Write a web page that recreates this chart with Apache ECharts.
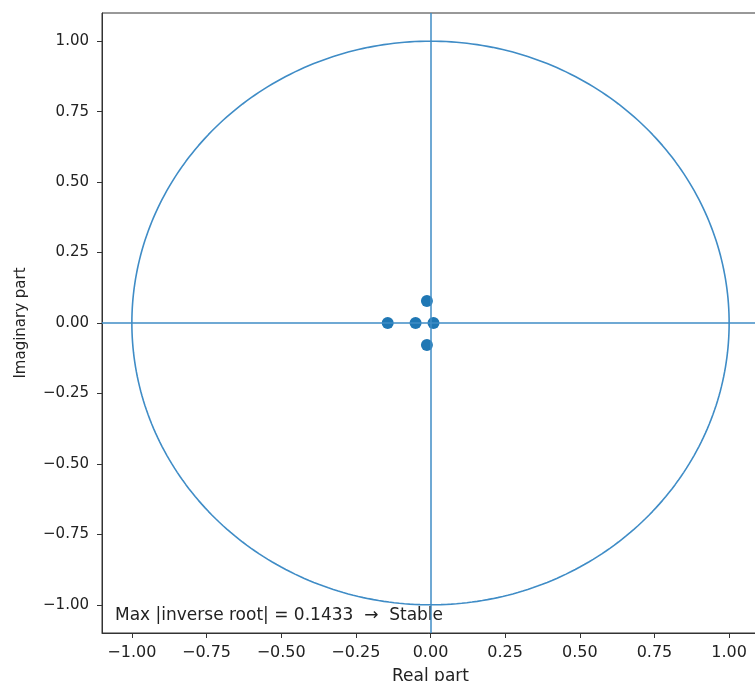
<!DOCTYPE html>
<html>
<head>
  <meta charset="utf-8">
  <title>Inverse roots</title>
  <style>
    html, body { margin: 0; padding: 0; background: #fff; }
    #chart { width: 755px; height: 681px; }
  </style>
</head>
<body>
  <div id="chart"></div>
  <script src="https://cdn.jsdelivr.net/npm/echarts@6/dist/echarts.min.js"></script>
  <script>
    // inverse roots (real, imaginary)
    var rootsRe = [-0.1433, -0.05, 0.01, -0.012, -0.012];
    var rootsIm = [0, 0, 0, 0.078, -0.078];
    var tickValues = [-1, -0.75, -0.5, -0.25, 0, 0.25, 0.5, 0.75, 1];
    var axisMin = -1.1;
    var axisMax = 1.1;

    var font = 'DejaVu Sans';
    var lineBlue = '#3f8cc6';

    function fmt(v) {
      return v.toFixed(2).replace('-', '\u2212');
    }

    var roots = rootsRe.map(function (re, i) { return [re, rootsIm[i]]; });
    var maxMod = Math.max.apply(null, roots.map(function (p) { return Math.hypot(p[0], p[1]); }));

    // unit circle reference
    var circle = [];
    for (var a = 0; a <= 360; a++) {
      var t = a * Math.PI / 180;
      circle.push([Math.cos(t), Math.sin(t)]);
    }

    var chart = echarts.init(document.getElementById('chart'));

    function axisCommon() {
      return {
        type: 'value',
        min: axisMin,
        max: axisMax,
        nameLocation: 'middle',
        nameTextStyle: { fontFamily: font, fontSize: 15, color: '#222' },
        splitLine: { show: false },
        axisLine: { show: true, onZero: false, lineStyle: { color: '#333', width: 1 } },
        axisTick: { show: true, inside: false, length: 5, customValues: tickValues, lineStyle: { color: '#333' } },
        axisLabel: {
          customValues: tickValues,
          formatter: fmt,
          fontFamily: font, fontSize: 16, color: '#222'
        }
      };
    }

    var xAxis = axisCommon();
    xAxis.name = 'Real part';
    xAxis.nameGap = 35;
    xAxis.nameTextStyle.fontSize = 17;
    xAxis.axisLabel.margin = 12;

    var yAxis = axisCommon();
    yAxis.name = 'Imaginary part';
    yAxis.nameGap = 73;
    yAxis.axisLabel.margin = 13;
    yAxis.axisLabel.fontSize = 15;

    var option = {
      animation: false,
      grid: {
        left: 102, top: 13, width: 657, height: 620,
        outerBoundsMode: 'none',
        containLabel: false,
        show: true, borderColor: '#333', borderWidth: 1, backgroundColor: 'transparent'
      },
      xAxis: xAxis,
      yAxis: yAxis,
      series: [
        {
          type: 'line',
          data: circle,
          showSymbol: false,
          symbol: 'none',
          lineStyle: { color: lineBlue, width: 1.6 },
          z: 2,
          markLine: {
            silent: true,
            symbol: 'none',
            label: { show: false },
            emphasis: { disabled: true },
            lineStyle: { color: lineBlue, width: 1.5, type: 'solid' },
            data: [
              { xAxis: 0, lineStyle: { color: lineBlue } },
              { yAxis: 0, lineStyle: { color: lineBlue } }
            ]
          }
        },
        {
          type: 'scatter',
          data: roots,
          symbolSize: 12,
          itemStyle: { color: '#1f77b4', opacity: 1 },
          z: 3
        }
      ],
      graphic: [{
        type: 'text',
        left: 115,
        top: 607,
        style: {
          text: 'Max |inverse root| = ' + maxMod.toFixed(4) + '  \u2192  Stable',
          font: '17px "DejaVu Sans"',
          fill: '#222'
        }
      }]
    };

    chart.setOption(option);
  </script>
</body>
</html>
